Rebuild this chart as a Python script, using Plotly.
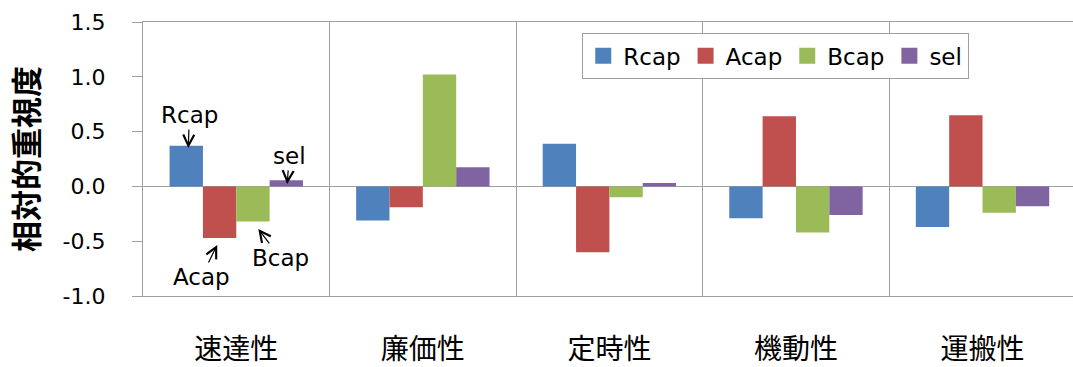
import plotly.graph_objects as go

# 評価軸 (categories) and series values
categories = ["速達性", "廉価性", "定時性", "機動性", "運搬性"]
series_names = ["Rcap", "Acap", "Bcap", "sel"]
rcap = [0.37, -0.31, 0.39, -0.29, -0.37]
acap = [-0.47, -0.19, -0.60, 0.64, 0.65]
bcap = [-0.32, 1.02, -0.10, -0.42, -0.24]
sel = [0.055, 0.175, 0.03, -0.26, -0.18]
y_tick_values = [-1.0, -0.5, 0.0, 0.5, 1.0, 1.5]
y_tick_labels = ["-1.0", "-0.5", "0.0", "0.5", "1.0", "1.5"]

colors = ["#4F81BD", "#C0504D", "#9BBB59", "#8064A2"]
grid = "#A0A0A0"
latin = "'DejaVu Sans', sans-serif"
cjk = "'Noto Sans CJK JP', sans-serif"

fig = go.Figure()
for name, vals, col in zip(series_names, [rcap, acap, bcap, sel], colors):
    fig.add_trace(go.Bar(x=categories, y=vals, name=name, marker_color=col,
                         marker_line_width=0, showlegend=False))
# legend swatches (larger squares than the default bar symbol)
for name, col in zip(series_names, colors):
    fig.add_trace(go.Scatter(x=[None], y=[None], mode="markers", name=name,
                             marker=dict(symbol="square", size=16, color=col)))

# callouts on the first group
callouts = [
    # text, head x (category units), head y, text offset px
    ("Rcap", -0.257, 0.35, 1, -33),
    ("sel", 0.273, 0.023, 2, -28),
    ("Acap", -0.102, -0.534, -16, 32),
    ("Bcap", 0.118, -0.388, 22, 29),
]
for txt, hx, hy, ax, ay in callouts:
    fig.add_annotation(x=hx, y=hy, text=txt, showarrow=True, ax=ax, ay=ay,
                       arrowhead=5, arrowsize=1.8, arrowwidth=1.2, arrowcolor="black",
                       font=dict(family=latin, size=23, color="black"))

fig.update_layout(
    width=1073, height=367,
    margin=dict(l=143, r=0, t=22, b=71),
    paper_bgcolor="white", plot_bgcolor="white",
    barmode="group", bargap=0.285, bargroupgap=0,
    showlegend=True,
    legend=dict(orientation="h", x=0.472, y=0.96, xanchor="left", yanchor="top",
                bordercolor=grid, borderwidth=1.3, bgcolor="white",
                font=dict(family=latin, size=23, color="black"),
                itemsizing="trace"),
    xaxis=dict(range=[-0.5, 4.485], tickson="boundaries", showgrid=True,
               gridcolor=grid, gridwidth=1.3, ticks="", showline=True,
               linecolor=grid, linewidth=1.3, mirror=True,
               tickfont=dict(family=cjk, size=28, color="black"),
               ticklabelstandoff=28),
    yaxis=dict(range=[-1.0, 1.5], tickvals=y_tick_values, ticktext=y_tick_labels,
               showgrid=False, zeroline=True, zerolinecolor=grid, zerolinewidth=1.3,
               showline=True, linecolor=grid, linewidth=1.3,
               ticks="outside", ticklen=10, tickcolor=grid, tickwidth=1.3,
               tickfont=dict(family=latin, size=22, color="black"),
               ticklabelstandoff=22,
               title=dict(text="<b>相対的重視度</b>", standoff=14,
                          font=dict(family=cjk, size=31, color="black"))),
)

fig.write_html("out.html")
